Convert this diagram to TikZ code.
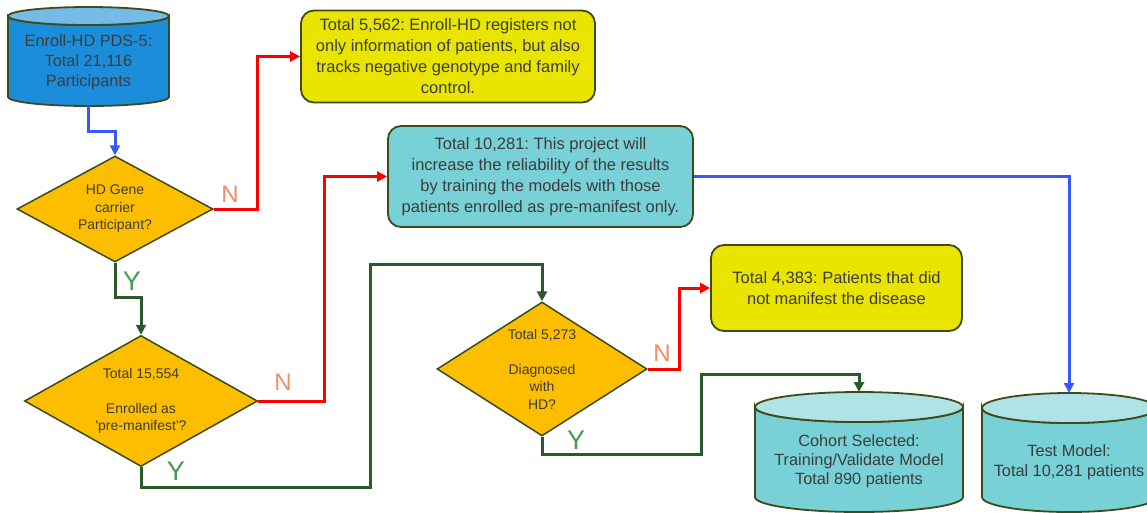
\documentclass[tikz,border=0pt]{standalone}
\usepackage{fontspec}
\setmainfont{Liberation Sans}
\usetikzlibrary{shapes.geometric,arrows.meta,calc}
\definecolor{edgeol}{HTML}{3E4A17}
\definecolor{txtgrey}{HTML}{3C3C3C}
\definecolor{boxyellow}{HTML}{E9E500}
\definecolor{boxcyan}{HTML}{78D1D6}
\definecolor{cyantop}{HTML}{B0E3E6}
\definecolor{dmdfill}{HTML}{FDBE00}
\definecolor{cylblue}{HTML}{1C8DDB}
\definecolor{cylbluetop}{HTML}{76BAE8}
\definecolor{linered}{HTML}{FF0000}
\definecolor{lineblue}{HTML}{3558FF}
\definecolor{linegreen}{HTML}{2C5A2C}
\definecolor{labN}{HTML}{EE8E68}
\definecolor{labY}{HTML}{479A55}
\frenchspacing
\begin{document}
\begin{tikzpicture}[x=1pt,y=-1pt,
  infobox/.style={draw=edgeol,line width=1.8pt,rounded corners=13pt,align=center,
    text=txtgrey,inner sep=0pt,font={\fontsize{16.5}{21}\selectfont}},
  decision/.style={diamond,draw=edgeol,line width=1.5pt,fill=dmdfill,inner sep=0pt,
    align=center,text=txtgrey,font={\fontsize{14}{17.5}\selectfont}},
  cyltext/.style={align=center,text=txtgrey,inner sep=0pt},
  cylline/.style={draw=edgeol,line width=1.8pt},
  conn/.style={line width=3pt,line cap=butt,line join=miter},
  arr/.style={-{Triangle[length=10pt,width=10pt]}},
  labn/.style={text=labN,font={\fontsize{24}{24}\selectfont}},
  laby/.style={text=labY,font={\fontsize{27}{27}\selectfont}}]
\clip (0,0) rectangle (1147,512);

% ---- cylinder 1 (Enroll-HD) ----
\path[fill=cylblue,cylline] (8,16) -- (8,97)
  arc[start angle=180,end angle=360,x radius=80.5pt,y radius=9pt] -- (169,16)
  arc[start angle=360,end angle=180,x radius=80.5pt,y radius=9pt] -- cycle;
\path[fill=cylbluetop,cylline] (88.5,16) ellipse [x radius=80.5pt,y radius=9pt];
\node[cyltext,font={\fontsize{16.3}{20}\selectfont}] (c1) at (88.5,62)
  {Enroll-HD PDS-5:\\Total 21,116\\Participants};
\coordinate (c1b) at (88.5,106);

% ---- cylinder 2 (Cohort) ----
\path[fill=boxcyan,cylline] (755,407) -- (755,497)
  arc[start angle=180,end angle=360,x radius=104pt,y radius=15pt] -- (963,407)
  arc[start angle=360,end angle=180,x radius=104pt,y radius=15pt] -- cycle;
\path[fill=cyantop,cylline] (859,407) ellipse [x radius=104pt,y radius=15pt];
\node[cyltext,font={\fontsize{16.3}{19}\selectfont}] (c2) at (859,461)
  {Cohort Selected:\\Training/Validate Model\\Total 890 patients};
\coordinate (c2t) at (859,392);

% ---- cylinder 3 (Test model) ----
\path[fill=boxcyan,cylline] (982,408) -- (982,497)
  arc[start angle=180,end angle=360,x radius=87pt,y radius=15pt] -- (1156,408)
  arc[start angle=360,end angle=180,x radius=87pt,y radius=15pt] -- cycle;
\path[fill=cyantop,cylline] (1069,408) ellipse [x radius=87pt,y radius=15pt];
\node[cyltext,font={\fontsize{16.3}{20}\selectfont}] (c3) at (1069,462)
  {Test Model:\\Total 10,281 patients};
\coordinate (c3t) at (1069,393);

% ---- boxes ----
\node[infobox,fill=boxyellow,minimum width=294pt,minimum height=92pt] (b1) at (448,56.5)
  {Total 5,562: Enroll-HD registers not\\only information of patients, but also\\tracks negative genotype and family\\control.};
\node[infobox,fill=boxcyan,minimum width=305pt,minimum height=101pt] (b2) at (540.5,176.5)
  {Total 10,281: This project will\\increase the reliability of the results\\by training the models with those\\patients enrolled as pre-manifest only.};
\node[infobox,fill=boxyellow,minimum width=251pt,minimum height=86pt] (b3) at (836.5,288)
  {Total 4,383: Patients that did\\not manifest the disease};

% ---- decisions ----
\node[decision,aspect=1.85,minimum width=196pt,minimum height=106pt] (d1) at (115,209)
  {HD Gene\\carrier\\Participant?};
\node[decision,aspect=1.78,minimum width=233pt,minimum height=131pt] (d2) at (141,401)
  {Total 15,554\\\mbox{}\\Enrolled as\\\textquotesingle pre-manifest\textquotesingle ?};
\node[decision,aspect=1.57,minimum width=210pt,minimum height=134pt] (d3) at (542,369)
  {Total 5,273\\\mbox{}\\Diagnosed\\with\\HD?};

% ---- connectors ----
\draw[conn,arr,lineblue] (c1b) |- (115,131) -- (d1.north);
\draw[conn,arr,linered] (d1.east) -- (257,209) |- (b1.west);
\draw[conn,arr,linegreen] (d1.south) |- (141,297) -- (d2.north);
\draw[conn,arr,linered] (d2.east) -- (324,401) |- (b2.west);
\draw[conn,arr,linegreen] (d2.south) |- (370,487) -- (370,264) -| (d3.north);
\draw[conn,arr,lineblue] (b2.east) -| (c3t);
\draw[conn,arr,linered] (d3.east) -- (679,369) |- (b3.west);
\draw[conn,arr,linegreen] (d3.south) |- (701,454) -- (701,374) -| (c2t);

% ---- labels ----
\node[labn] (n1) at (230,194) {N};
\node[labn] (n2) at (283,382) {N};
\node[labn] (n3) at (662,353) {N};
\node[laby] (y1) at (132,281) {Y};
\node[laby] (y2) at (176,471) {Y};
\node[laby] (y3) at (576,440) {Y};
\end{tikzpicture}
\end{document}
